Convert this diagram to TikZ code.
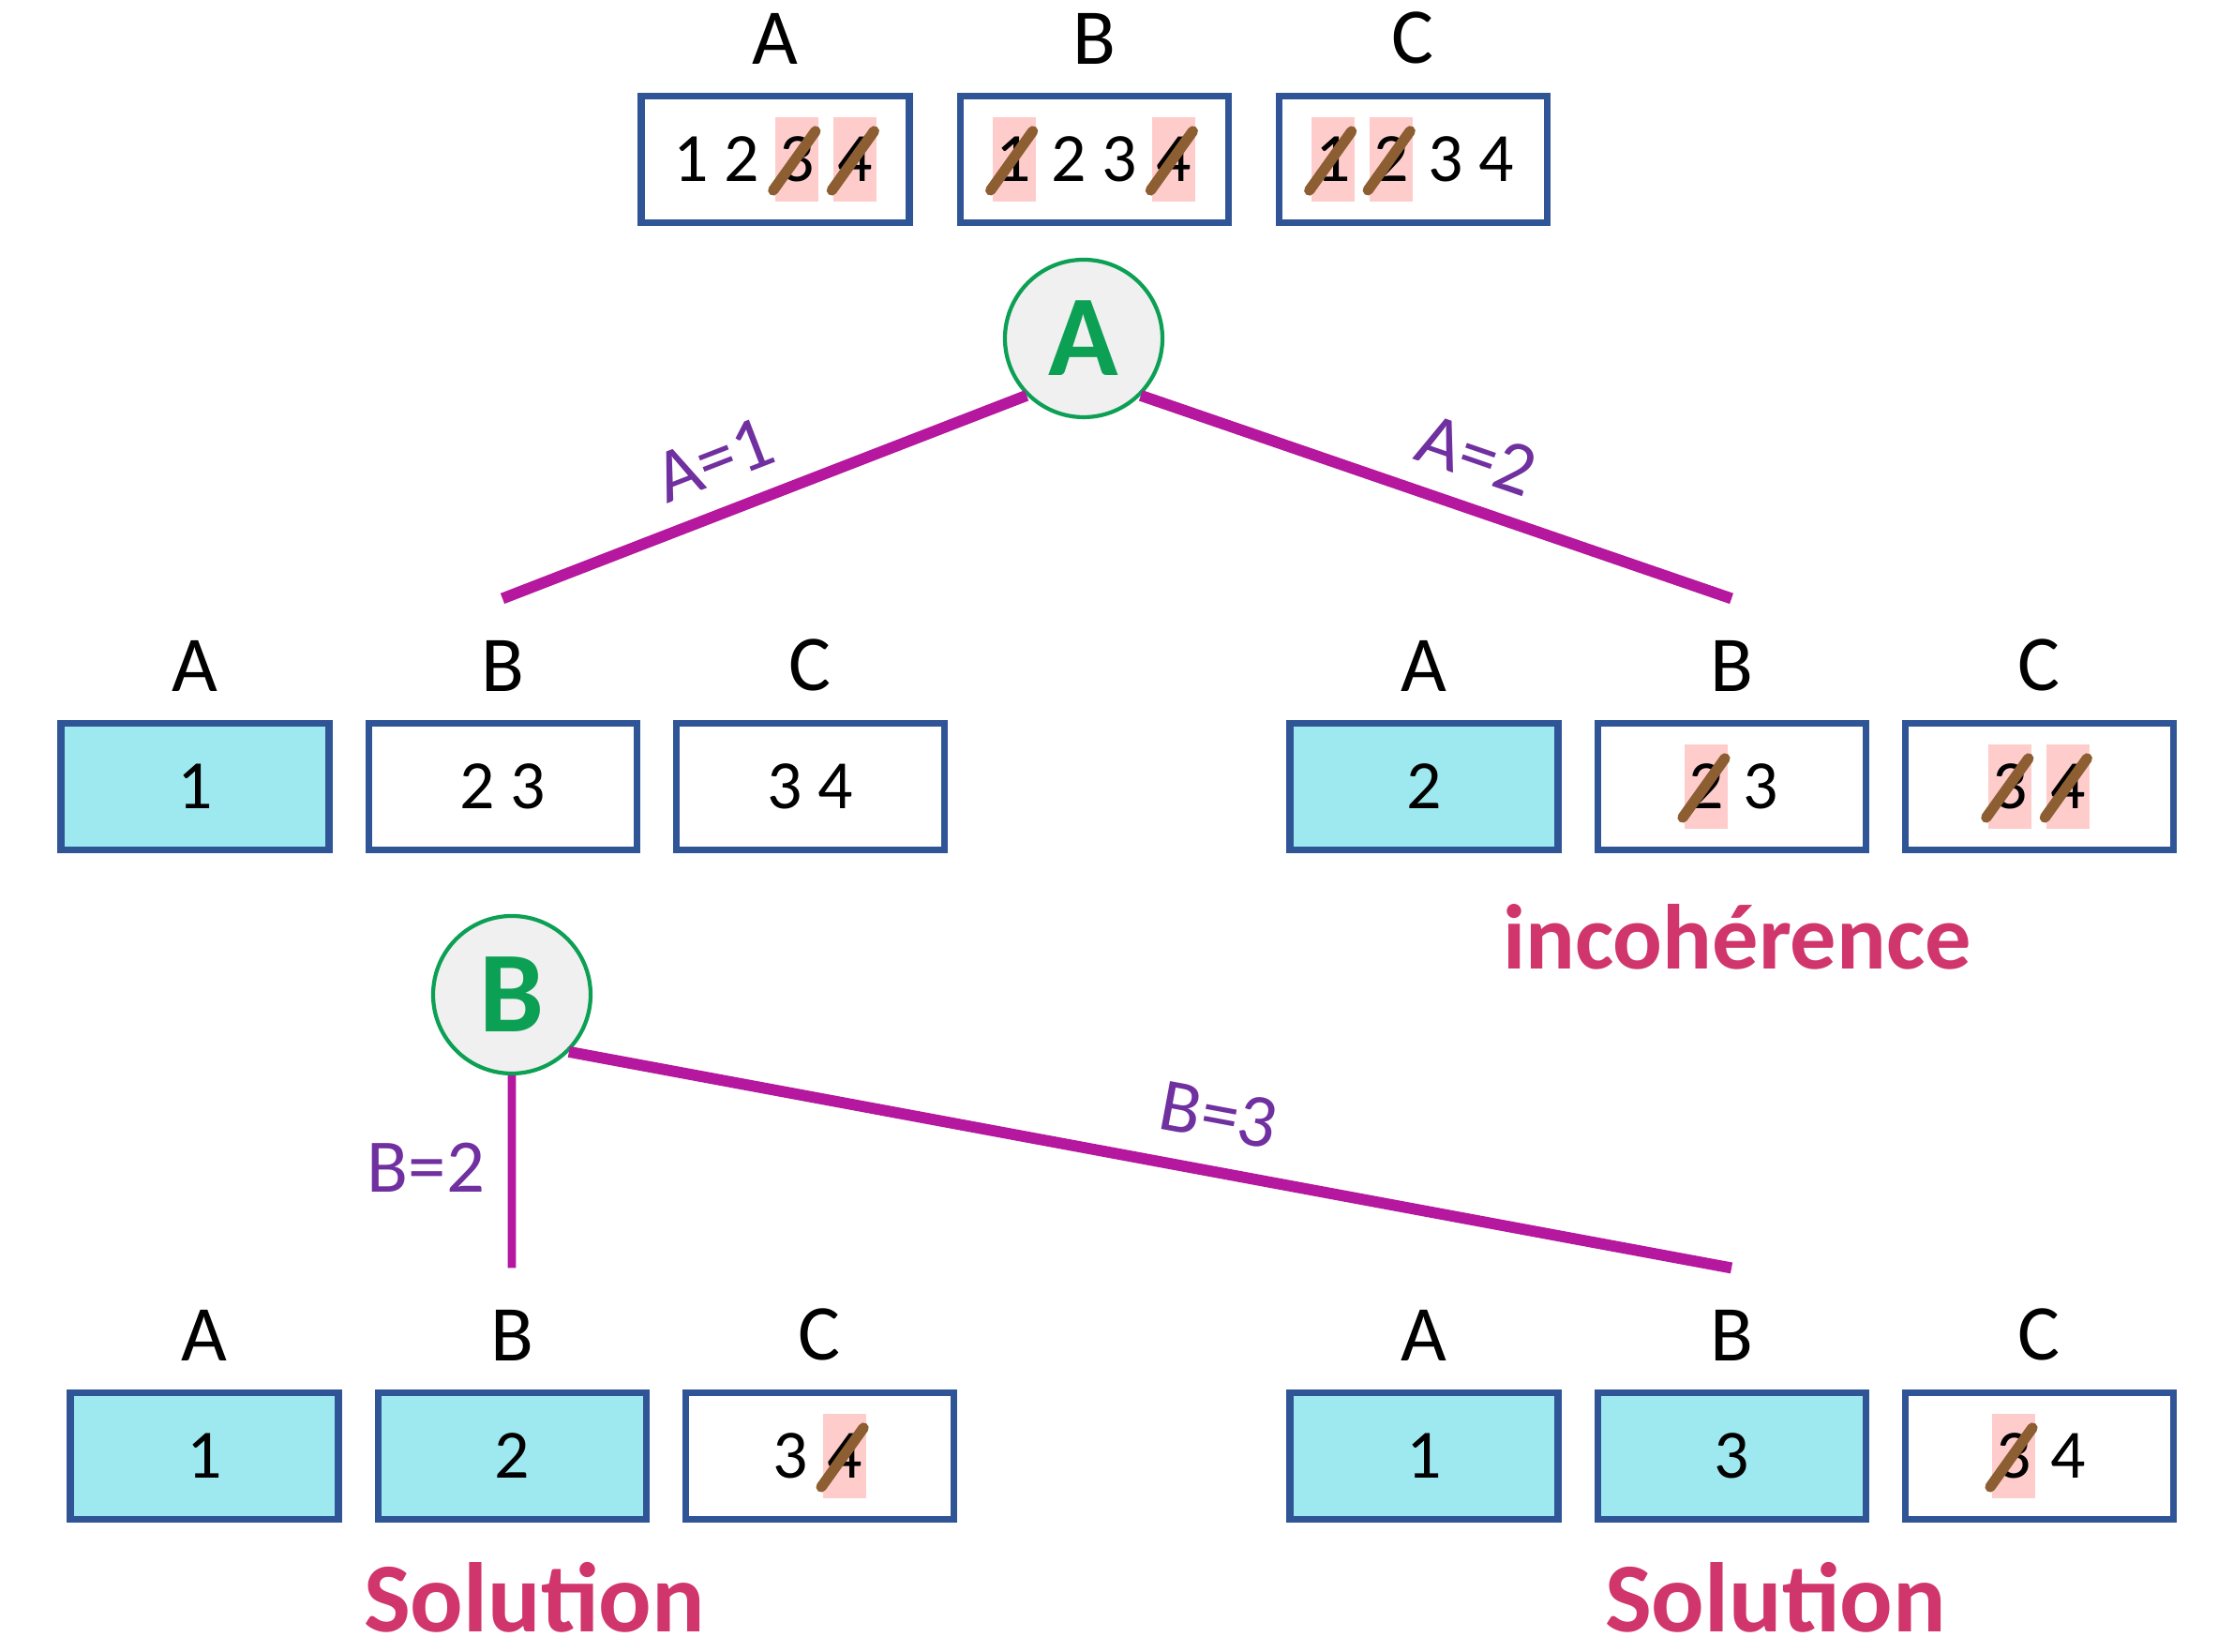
\documentclass[tikz,border=0pt]{standalone}
\usepackage{fontspec}
\setmainfont{Carlito}
\usepackage{xcolor}
\usepackage{tikz}
\usetikzlibrary{positioning}
\definecolor{myblue}{RGB}{47,85,151}
\definecolor{mycyan}{RGB}{158,232,240}
\definecolor{mypink}{RGB}{255,204,204}
\definecolor{mybrown}{RGB}{140,94,50}
\definecolor{mygreen}{RGB}{12,160,85}
\definecolor{mygrey}{RGB}{240,240,240}
\definecolor{mymagenta}{RGB}{181,23,158}
\definecolor{mypurple}{RGB}{112,48,160}
\definecolor{myrose}{RGB}{208,54,107}
\tikzset{
  domaine/.style={rectangle, draw=myblue, fill=white, line width=2pt,
    minimum width=2.86cm, minimum height=1.35cm,
    font=\fontsize{21}{21}\selectfont},
  fixe/.style={domaine, fill=mycyan},
  nomvar/.style={inner sep=0pt, font=\fontsize{24}{24}\selectfont},
  choix/.style={circle, draw=mygreen, fill=mygrey, line width=1.2pt,
    minimum size=1.68cm, text=mygreen,
    font=\fontsize{35}{35}\selectfont\bfseries},
  branche/.style={line width=3.4pt, color=mymagenta},
  valeur/.style={text=mypurple, font=\fontsize{23}{23}\selectfont},
  verdict/.style={text=myrose, font=\fontsize{28}{28}\selectfont\bfseries},
  barree/.style={fill=mypink, draw=none, inner xsep=1.2pt, inner ysep=0pt,
    minimum width=0pt, minimum height=0.9cm},
  trait/.style={draw=mybrown, fill=none, line width=3.2pt, line cap=round}
}
\newcommand{\barre}[1]{\tikz[baseline=(d.base)]{\node[barree] (d) {#1};
  \draw[trait, overlay] ([shift={(-0.25,-0.33)}]d.center) -- ([shift={(0.2,0.3)}]d.center);}}

\begin{document}
\begin{tikzpicture}
  \useasboundingbox (0,0) rectangle (23.66,17.62);

  % racine
  \node[domaine] (tA) at (8.27,15.92) {1 2 \barre{3} \barre{4}};
  \node[domaine, right=0.47cm of tA] (tB) {\barre{1} 2 3 \barre{4}};
  \node[domaine, right=0.47cm of tB] (tC) {\barre{1} \barre{2} 3 4};
  \node[choix] (cA) at (11.56,14.01) {A};

  % A=1
  \node[fixe] (gA) at (2.08,9.23) {1};
  \node[domaine, right=0.35cm of gA] (gB) {2 3};
  \node[domaine, right=0.35cm of gB] (gC) {3 4};

  % A=2
  \node[fixe] (dA) at (15.19,9.23) {2};
  \node[domaine, right=0.35cm of dA] (dB) {\barre{2} 3};
  \node[domaine, right=0.35cm of dB] (dC) {\barre{3} \barre{4}};
  \node[verdict] (incoh) at (18.53,7.63) {incohérence};

  \node[choix] (cB) at (5.46,7.01) {B};

  % B=2
  \node[fixe] (sA) at (2.18,2.09) {1};
  \node[fixe, right=0.35cm of sA] (sB) {2};
  \node[domaine, right=0.35cm of sB] (sC) {3 \barre{4}};
  \node[verdict, font=\fontsize{30}{30}\selectfont\bfseries] (sol1) at (5.70,0.58) {Solution};

  % B=3
  \node[fixe] (uA) at (15.19,2.09) {1};
  \node[fixe, right=0.35cm of uA] (uB) {3};
  \node[domaine, right=0.35cm of uB] (uC) {\barre{3} 4};
  \node[verdict, font=\fontsize{30}{30}\selectfont\bfseries] (sol2) at (18.94,0.58) {Solution};

  \foreach \bx/\n in {tA/A, tB/B, tC/C, gA/A, gB/B, gC/C, dA/A, dB/B, dC/C,
                      sA/A, sB/B, sC/C, uA/A, uB/B, uC/C}
    \node[nomvar, above=0.3cm of \bx] (l\bx) {\n};

  \coordinate[above=0.44cm of lgB] (fgB);
  \coordinate[above=0.44cm of ldB] (fdB);
  \coordinate[above=0.44cm of lsB] (fsB);
  \coordinate[above=0.44cm of luB] (fuB);

  \draw[branche] (cA.south west) -- node[valeur, sloped, above, pos=0.56, inner sep=7pt] {A=1} (fgB);
  \draw[branche] (cA.south east) -- node[valeur, sloped, above, pos=0.54, inner sep=7pt] {A=2} (fdB);
  \draw[branche, line width=2.5pt] (cB.south) -- node[valeur, left, pos=0.48, inner sep=7pt] {B=2} (fsB);
  \draw[branche] (cB.south east) -- node[valeur, sloped, above, pos=0.55, inner sep=8pt] {B=3} (fuB);
\end{tikzpicture}
\end{document}
